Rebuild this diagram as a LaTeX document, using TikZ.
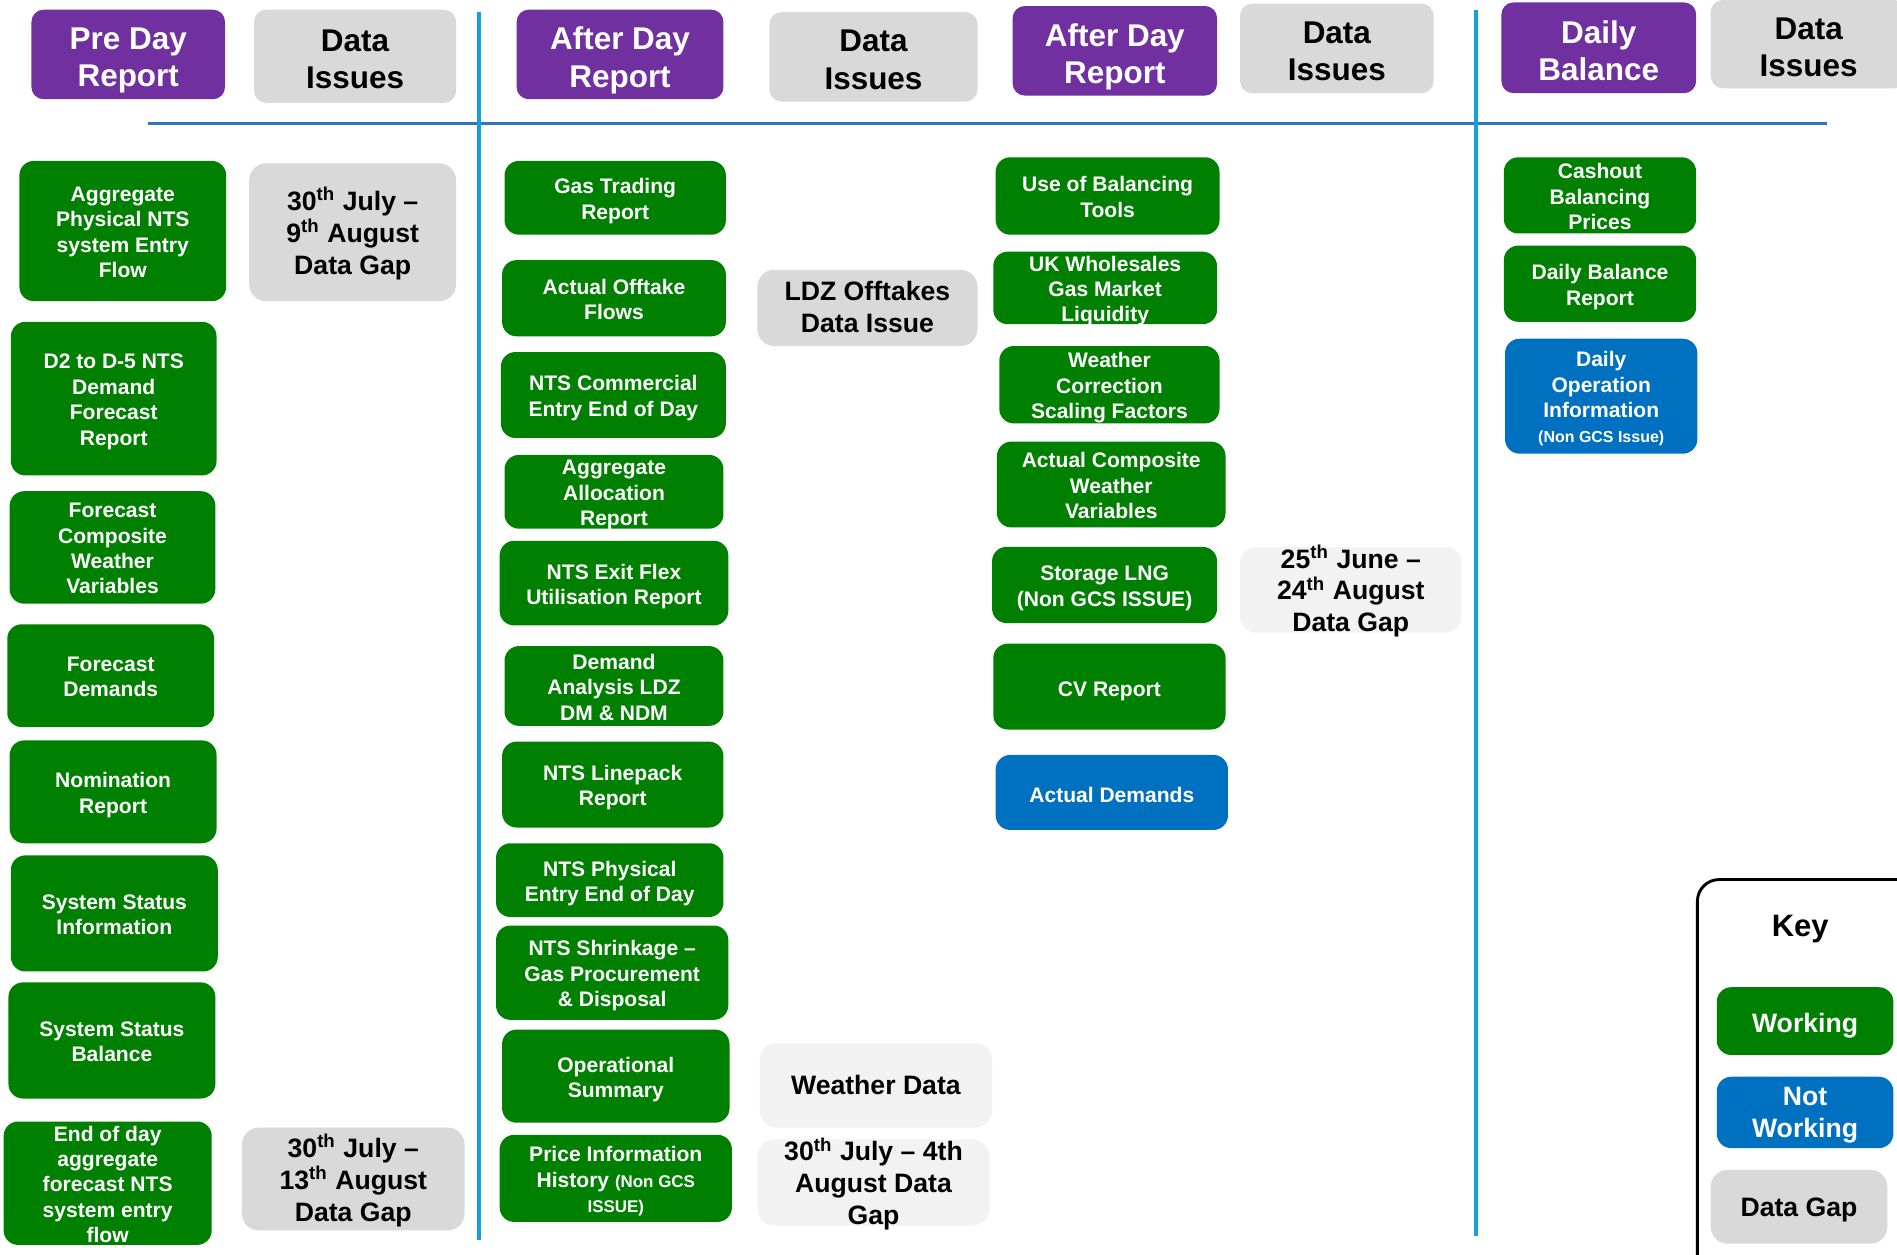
\documentclass[tikz,border=0pt]{standalone}
\usepackage{fontspec}
\setmainfont{Liberation Sans}
\definecolor{hpurple}{RGB}{112,48,160}
\definecolor{wgreen}{RGB}{0,128,0}
\definecolor{nblue}{RGB}{0,112,192}
\definecolor{dgray}{RGB}{217,217,217}
\definecolor{lgray}{RGB}{242,242,242}
\definecolor{vline}{RGB}{20,160,220}
\definecolor{hline}{RGB}{46,117,200}
% box node (#1) and its text node (#1t)
\newcommand\bx[7]{%
 \pgfmathsetmacro\cx{(#3+#5)/2}\pgfmathsetmacro\cy{(#4+#6)/2}%
 \pgfmathsetmacro\ww{(#5-#3)*0.5}\pgfmathsetmacro\hh{(#6-#4)*0.5}%
 \node[#2, minimum width=\ww pt, minimum height=\hh pt] (#1) at (\cx,\cy) {};
 \node[#2, fill=none, draw=none, minimum width=0pt, minimum height=0pt,
   execute at begin node=\strut, execute at end node=\strut, tshift] (#1t) at (#1.center) {#7};}
\newcommand\sth{\textsuperscript{th}}
\tikzset{
 tshift/.style={},
 base/.style={rounded corners=6pt, inner sep=0pt, align=center,
   font=\bfseries\fontsize{8.7pt}{10.5pt}\selectfont, tshift/.style={yshift=-2pt}},
 hdr/.style={base, fill=hpurple, text=white, rounded corners=5pt,
   font=\bfseries\fontsize{13pt}{15.5pt}\selectfont, tshift/.style={yshift=-3.5pt}},
 hdi/.style={hdr, fill=dgray, text=black},
 gbox/.style={base, fill=wgreen, text=white},
 bbox/.style={base, fill=nblue, text=white},
 gap/.style={base, fill=dgray, text=black, rounded corners=7pt,
   font=\bfseries\fontsize{11pt}{13.2pt}\selectfont, tshift/.style={yshift=-1.4pt}},
 lgap/.style={gap, fill=lgray},
 keyitem/.style={font=\bfseries\fontsize{11pt}{13pt}\selectfont, tshift/.style={yshift=-2pt}},
 sep/.style={line width=1.5pt},
}
\begin{document}
\begin{tikzpicture}[x=0.5pt,y=-0.5pt]
\useasboundingbox (0,0) rectangle (1568,1037);
\clip (0,0) rectangle (1568,1037);
% separators
\coordinate (h1) at (122,102); \coordinate (h2) at (1510,102);
\coordinate (v1a) at (396,10); \coordinate (v1b) at (396,1025);
\coordinate (v2a) at (1220,8); \coordinate (v2b) at (1220,1022);
\draw[sep, hline] (h1) -- (h2);
\draw[sep, vline] (v1a) -- (v1b);
\draw[sep, vline] (v2a) -- (v2b);
% headers
\bx{h1r}{hdr}{26}{8}{186}{82}{Pre Day\\Report}
\bx{h1d}{hdi}{210}{8}{377}{85}{Data\\Issues}
\bx{h2r}{hdr}{427}{8}{598}{82}{After Day\\Report}
\bx{h2d}{hdi}{636}{10}{808}{84}{Data\\Issues}
\bx{h3r}{hdr}{837}{5}{1006}{79}{After Day\\Report}
\bx{h3d}{hdi}{1025}{3}{1185}{77}{Data\\Issues}
\bx{h4r}{hdr}{1241}{2}{1402}{77}{Daily\\Balance}
\bx{h4d}{hdi}{1414}{0}{1576}{73}{Data\\Issues}
% column 1
\bx{a1}{gbox}{16}{133}{187}{249}{Aggregate\\Physical NTS\\system Entry\\Flow}
\bx{a2}{gbox}{9}{266}{179}{393}{D2 to D-5 NTS\\Demand\\Forecast\\Report}
\bx{a3}{gbox}{8}{406}{178}{499}{Forecast\\Composite\\Weather\\Variables}
\bx{a4}{gbox}{6}{516}{177}{601}{Forecast\\Demands}
\bx{a5}{gbox}{8}{612}{179}{697}{Nomination\\Report}
\bx{a6}{gbox}{9}{707}{180}{803}{System Status\\Information}
\bx{a7}{gbox}{7}{812}{178}{908}{System Status\\Balance}
\bx{a8}{gbox}{3}{927}{175}{1029}{End of day\\aggregate\\forecast NTS\\system entry\\flow}
% column 2
\bx{g1}{gap}{206}{135}{377}{249}{30\sth{} July –\\9\sth{} August\\Data Gap}
\bx{g2}{gap}{200}{932}{384}{1017}{30\sth{} July –\\13\sth{} August\\Data Gap}
% column 3
\bx{b1}{gbox}{417}{133}{600}{194}{Gas Trading\\Report}
\bx{b2}{gbox}{415}{215}{600}{278}{Actual Offtake\\Flows}
\bx{b3}{gbox}{414}{291}{600}{362}{NTS Commercial\\Entry End of Day}
\bx{b4}{gbox}{417}{376}{598}{437}{Aggregate\\Allocation\\Report}
\bx{b5}{gbox}{413}{447}{602}{517}{NTS Exit Flex\\Utilisation Report}
\bx{b6}{gbox}{417}{534}{598}{600}{Demand\\Analysis LDZ\\DM \& NDM}
\bx{b7}{gbox}{415}{613}{598}{684}{NTS Linepack\\Report}
\bx{b8}{gbox}{410}{697}{598}{758}{NTS Physical\\Entry End of Day}
\bx{b9}{gbox}{410}{765}{602}{843}{NTS Shrinkage –\\Gas Procurement\\\& Disposal}
\bx{b10}{gbox}{415}{851}{603}{928}{Operational\\Summary}
\bx{b11}{gbox}{413}{938}{605}{1010}{Price Information\\History {\fontsize{7pt}{10.5pt}\selectfont(Non GCS}\\{\fontsize{7pt}{10.5pt}\selectfont ISSUE)}}
% column 4
\bx{g3}{gap}{626}{223}{808}{286}{LDZ Offtakes\\Data Issue}
\bx{g4}{lgap}{628}{862}{820}{932}{Weather Data}
\bx{g5}{lgap}{626}{942}{818}{1013}{30\sth{} July – 4th\\August Data\\Gap}
% column 5
\bx{c1}{gbox}{823}{130}{1008}{194}{Use of Balancing\\Tools}
\bx{c2}{gbox}{821}{208}{1006}{268}{UK Wholesales\\Gas Market\\Liquidity}
\bx{c3}{gbox}{826}{286}{1008}{350}{Weather\\Correction\\Scaling Factors}
\bx{c4}{gbox}{824}{365}{1013}{436}{Actual Composite\\Weather\\Variables}
\bx{c5}{gbox}{820}{452}{1006}{515}{Storage LNG\\(Non GCS ISSUE)}
\bx{c6}{gbox}{821}{532}{1013}{603}{CV Report}
\bx{c7}{bbox}{823}{624}{1015}{686}{Actual Demands}
% column 6
\bx{g6}{lgap}{1025}{452}{1208}{523}{25\sth{} June –\\24\sth{} August\\Data Gap}
% column 7
\bx{d1}{gbox}{1243}{130}{1402}{193}{Cashout\\Balancing\\Prices}
\bx{d2}{gbox}{1243}{203}{1402}{266}{Daily Balance\\Report}
\bx{d3}{bbox}{1244}{280}{1403}{375}{Daily\\Operation\\Information\\{\fontsize{6.6pt}{9pt}\selectfont(Non GCS Issue)}}
% key
\node[draw=black, line width=1.2pt, rounded corners=9pt, minimum width=98.5pt, minimum height=166.5pt, inner sep=0pt] (key) at (1501.5,893.5) {};
\node[font=\bfseries\fontsize{12.8pt}{15pt}\selectfont, yshift=-0.8pt] (keyt) at (1488,766) {Key};
\bx{k1}{gbox, keyitem}{1419}{816}{1565}{872}{Working}
\bx{k2}{bbox, keyitem}{1419}{890}{1565}{949}{Not\\Working}
\bx{k3}{gap}{1414}{967}{1560}{1028}{Data Gap}
\end{tikzpicture}
\end{document}
